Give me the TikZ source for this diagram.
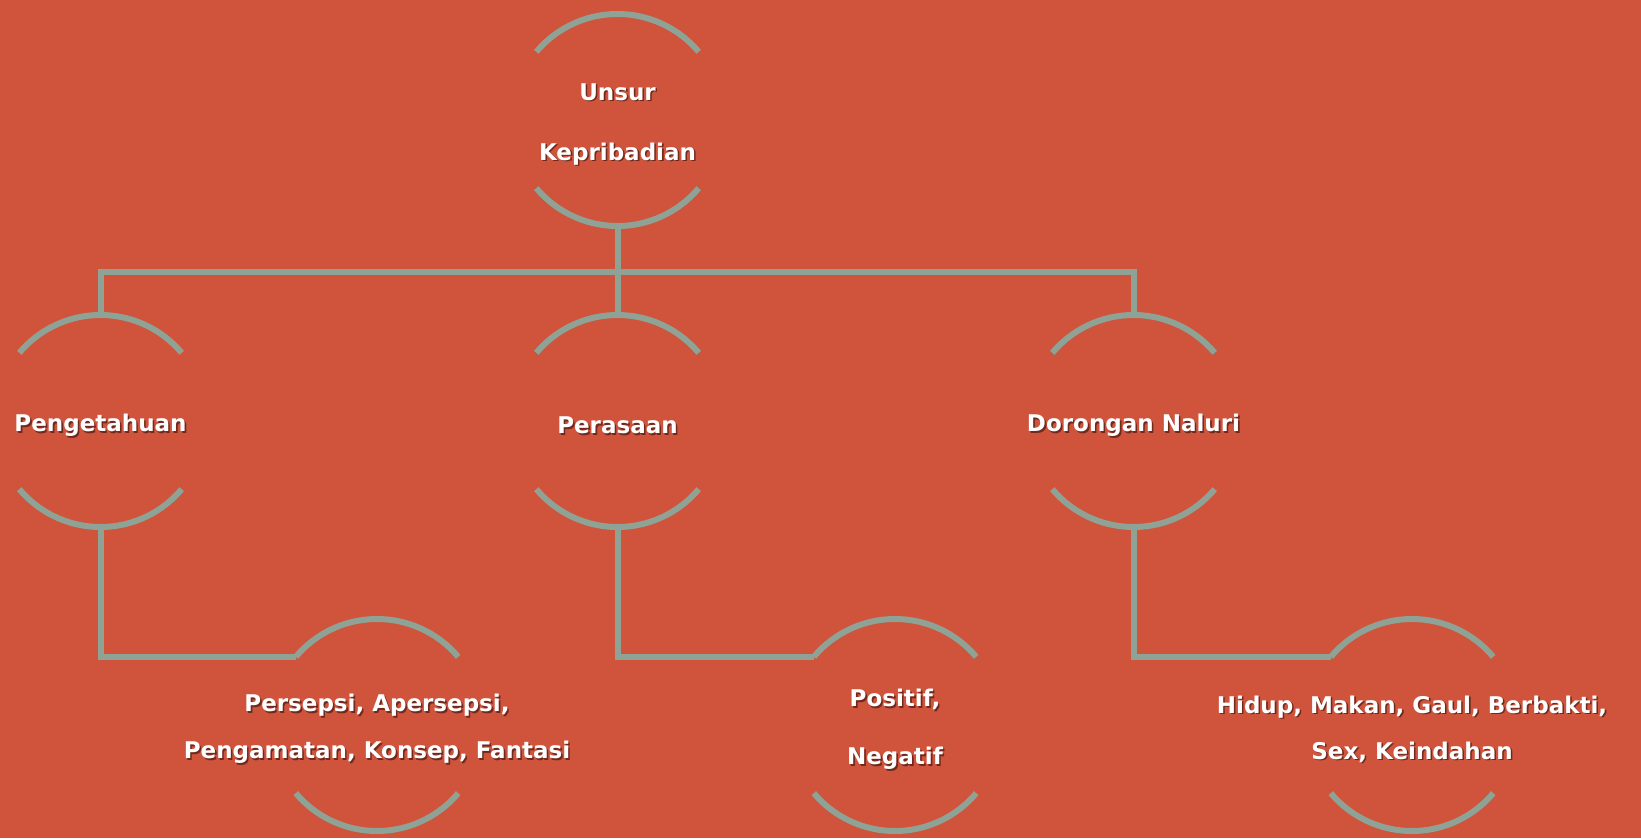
\documentclass[tikz,border=0pt]{standalone}
\usepackage{fontspec}
\setmainfont{DejaVu Sans}
\definecolor{bgc}{HTML}{D0533C}
\definecolor{linec}{HTML}{8FA296}
\definecolor{shadowc}{HTML}{6E2A1E}
\newcommand\shtxt[1]{\rlap{\kern1.6pt\raisebox{-1.6pt}{\color{shadowc}#1}}#1}
\tikzset{
  ring/.style={circle, minimum size=212pt, inner sep=0pt, outer sep=0pt},
  txt/.style={inner sep=0pt, align=center, text=white, yshift=-5pt,
    font=\bfseries\fontsize{23}{28}\selectfont},
  conn/.style={draw=linec, line width=6pt, line join=miter},
}
\begin{document}
\begin{tikzpicture}[x=1pt,y=-1pt]
\fill[bgc] (0,0) rectangle (1641,838);
\useasboundingbox (0,0) rectangle (1641,838);
\coordinate (bar) at (0,272);
\node[ring] (top) at (617.5,120) {};
\node[ring] (l2a) at (100.5,421) {};
\node[ring] (l2b) at (617.5,421) {};
\node[ring] (l2c) at (1133.5,421) {};
\node[ring] (l3a) at (377,725) {};
\node[ring] (l3b) at (895,725) {};
\node[ring] (l3c) at (1412,725) {};
\node[txt, font=\bfseries\fontsize{23}{60}\selectfont] (topt) at (top) {\shtxt{Unsur}\\\shtxt{Kepribadian}};
\node[txt] (l2at) at (l2a) {\shtxt{Pengetahuan}};
\node[txt] (l2bt) at (l2b) {\shtxt{Perasaan}};
\node[txt] (l2ct) at (l2c) {\shtxt{Dorongan Naluri}};
\node[txt, font=\bfseries\fontsize{23}{47}\selectfont] (l3at) at (l3a) {\shtxt{Persepsi, Apersepsi,}\\\shtxt{Pengamatan, Konsep, Fantasi}};
\node[txt, font=\bfseries\fontsize{23}{58}\selectfont] (l3bt) at (l3b) {\shtxt{Positif,}\\\shtxt{Negatif}};
\node[txt, font=\bfseries\fontsize{23}{46}\selectfont] (l3ct) at (l3c) {\shtxt{Hidup, Makan, Gaul, Berbakti,}\\\shtxt{Sex, Keindahan}};
\foreach \n in {top,l2a,l2b,l2c,l3a,l3b,l3c}{
  \draw[conn] (\n.40) arc[start angle=40, end angle=140, radius=106pt];
  \draw[conn] (\n.220) arc[start angle=220, end angle=320, radius=106pt];
}
\draw[conn] (top.south) -- (l2b.north);
\draw[conn] (l2a.north) -- (l2a.north |- bar) -- (l2c.north |- bar) -- (l2c.north);
\draw[conn] (l2a.south) |- (l3a.140);
\draw[conn] (l2b.south) |- (l3b.140);
\draw[conn] (l2c.south) |- (l3c.140);
\end{tikzpicture}
\end{document}
